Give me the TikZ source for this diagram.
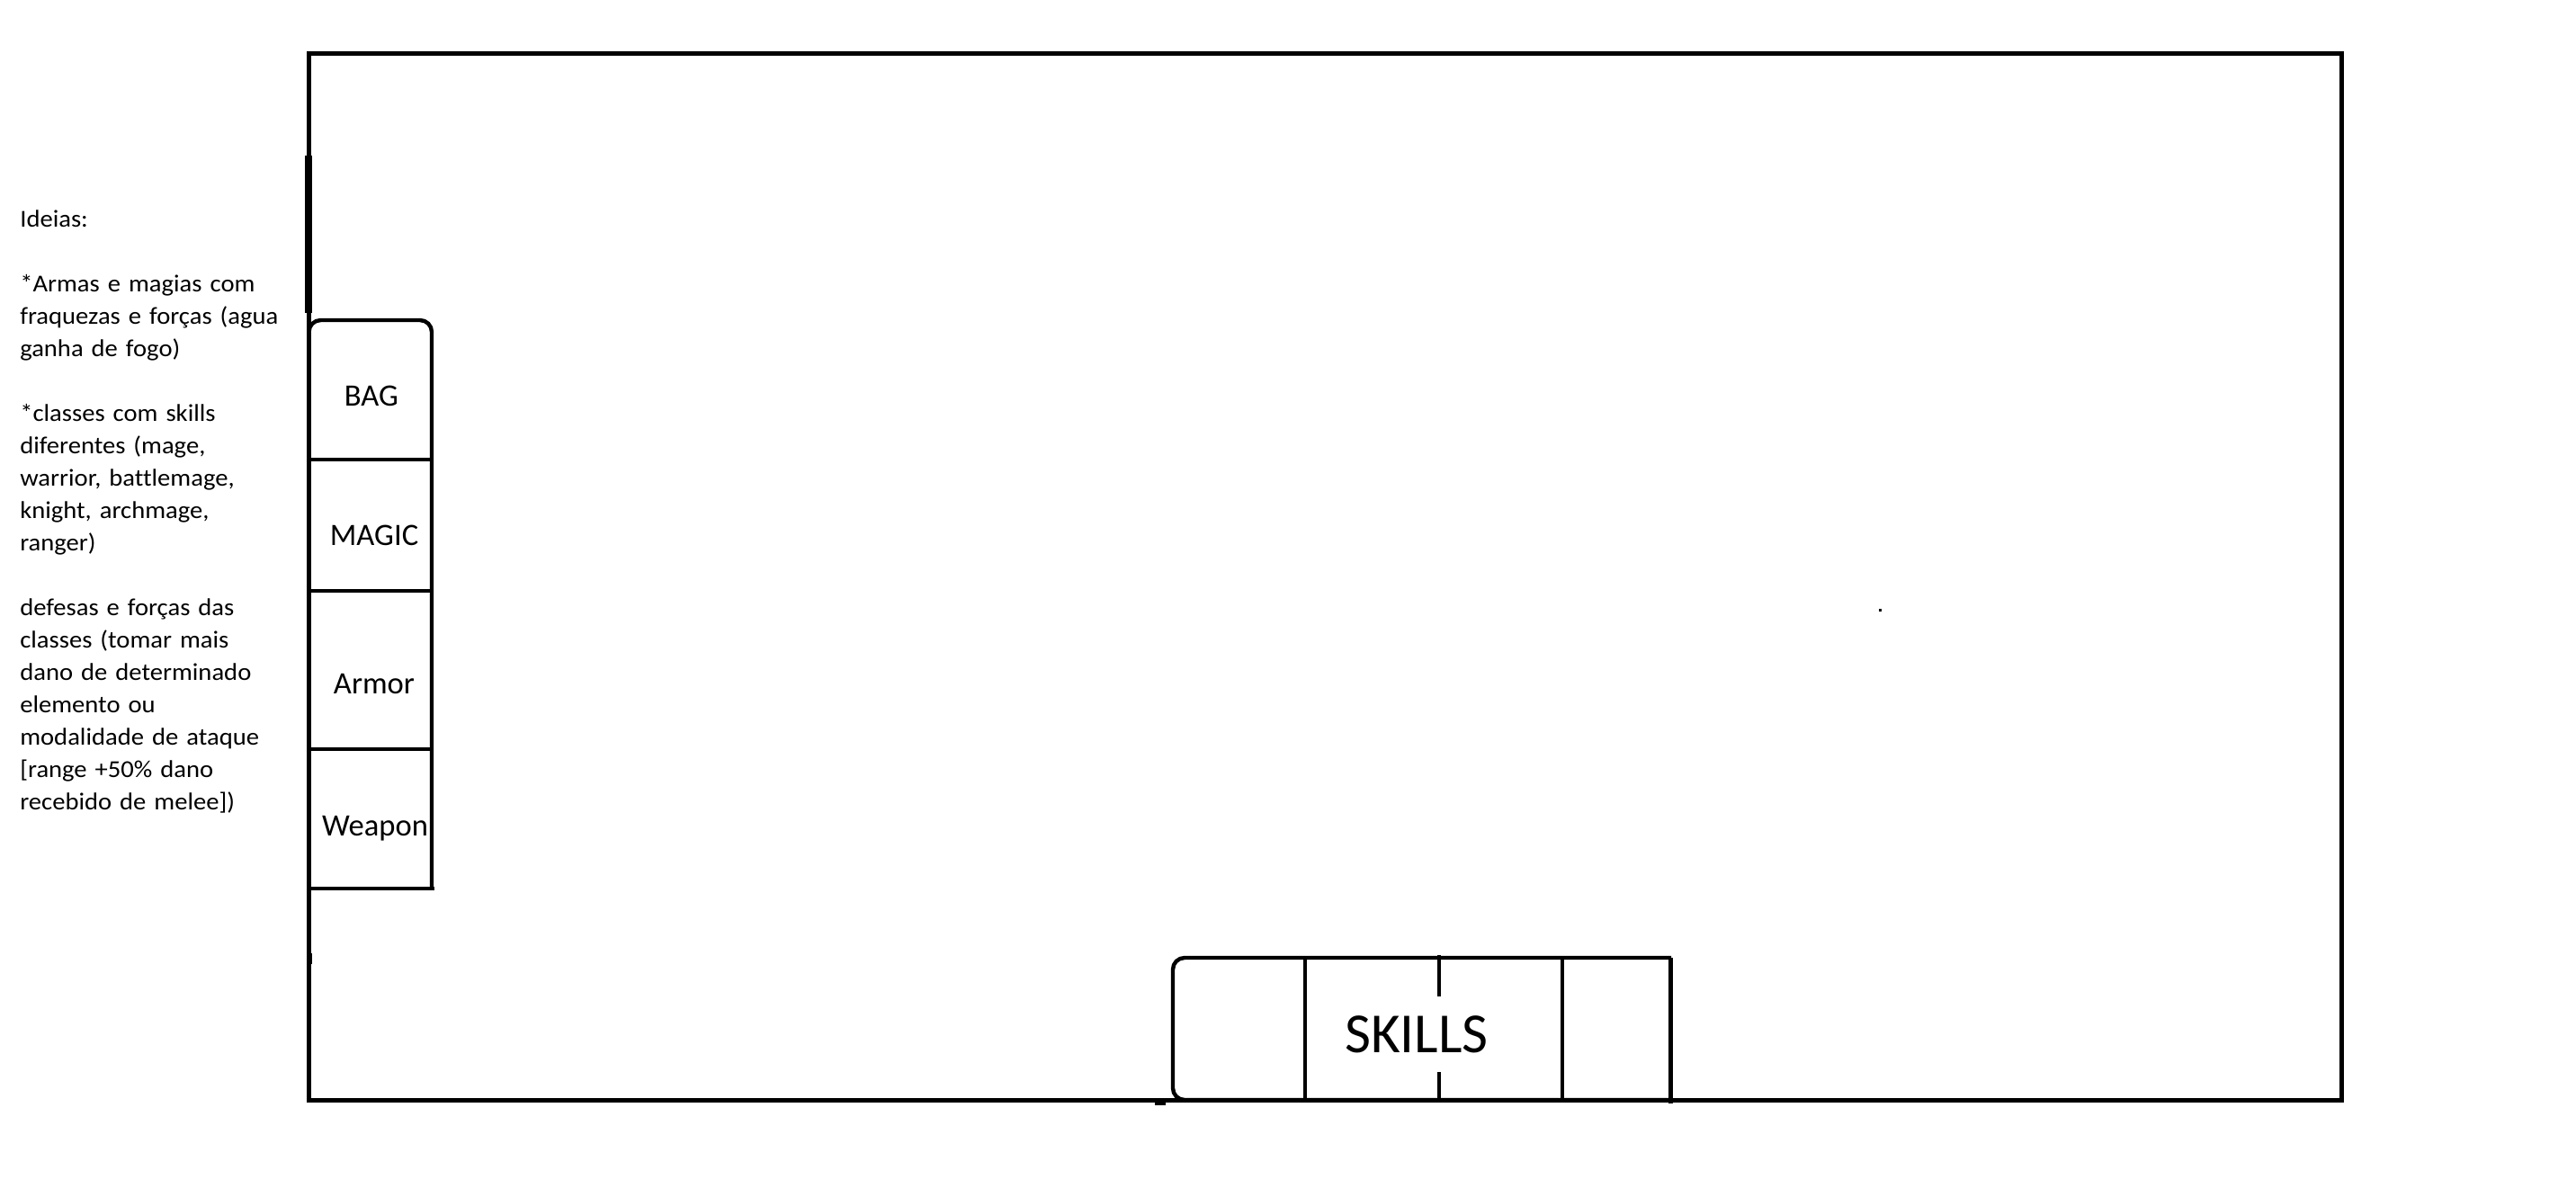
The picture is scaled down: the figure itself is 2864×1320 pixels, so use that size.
\documentclass[tikz,border=0pt]{standalone}
\usepackage{fontspec}
\setmainfont[Ligatures=NoCommon]{Carlito}
\newfontfamily\notefont[Ligatures=NoCommon,FakeStretch=1.06]{Carlito}
\begin{document}
\begin{tikzpicture}[x=0.25pt,y=-0.25pt,
  mainline/.style={line width=1.25pt, black},
  thinline/.style={line width=1.1pt, black},
  notetext/.style={anchor=base west, inner sep=0pt, text width=100pt, align=left,
     font=\notefont\fontsize{6.75pt}{9pt}\selectfont},
  lbl/.style={anchor=base, inner sep=0pt, font=\fontsize{8.65pt}{10pt}\selectfont},
  skl/.style={anchor=base, inner sep=0pt, font=\fontsize{15.75pt}{18pt}\selectfont}]
\useasboundingbox (0,0) rectangle (2864,1320);
\fill[white] (0,0) rectangle (2864,1320);

% main frame
\draw[mainline] (343.5,59.5) rectangle (2603,1223);
\draw[line width=2pt] (342.5,173) -- (342.5,348);
\fill (343,1060) rectangle (347,1072);

% left panel
\draw[thinline, rounded corners=3.25pt] (343.5,988) -- (343.5,356) -- (480,356) -- (480,988);
\draw[thinline] (343.5,511) -- (480,511);
\draw[thinline] (343.5,657) -- (481,657);
\draw[thinline] (343.5,833) -- (480,833);
\draw[thinline] (343.5,988) -- (483,988);

\node[lbl] (bag) at (413,451) {BAG};
\node[lbl] (magic) at (416,606) {MAGIC};
\node[lbl] (armor) at (416,771) {Armor};
\node[lbl] (weapon) at (417,929) {Weapon};

% skills bar
\draw[thinline, rounded corners=3.25pt] (1858,1065) -- (1304,1065) -- (1304,1223) -- (1858,1223);
\draw[thinline] (1451,1065) -- (1451,1223);
\draw[thinline] (1737,1065) -- (1737,1226);
\draw[thinline] (1857.5,1065) -- (1857.5,1227);
\draw[thinline] (1600,1062) -- (1600,1108);
\draw[thinline] (1600,1192) -- (1600,1223);
\fill (1284,1224) rectangle (1296,1229);
\node[skl] (skills) at (1575,1170) {SKILLS};

% stray dot
\fill (2088.5,676.5) rectangle (2091.5,679.5);

% notes
\node[notetext] (notes) at (21.5,252) {Ideias:\\[9pt]
*Armas e magias com\\
fraquezas e forças (agua\\
ganha de fogo)\\[9pt]
*classes com skills\\
diferentes (mage,\\
warrior, battlemage,\\
knight, archmage,\\
ranger)\\[9pt]
defesas e forças das\\
classes (tomar mais\\
dano de determinado\\
elemento ou\\
modalidade de ataque\\
{[}range +50\% dano\\
recebido de melee])};
\end{tikzpicture}
\end{document}
